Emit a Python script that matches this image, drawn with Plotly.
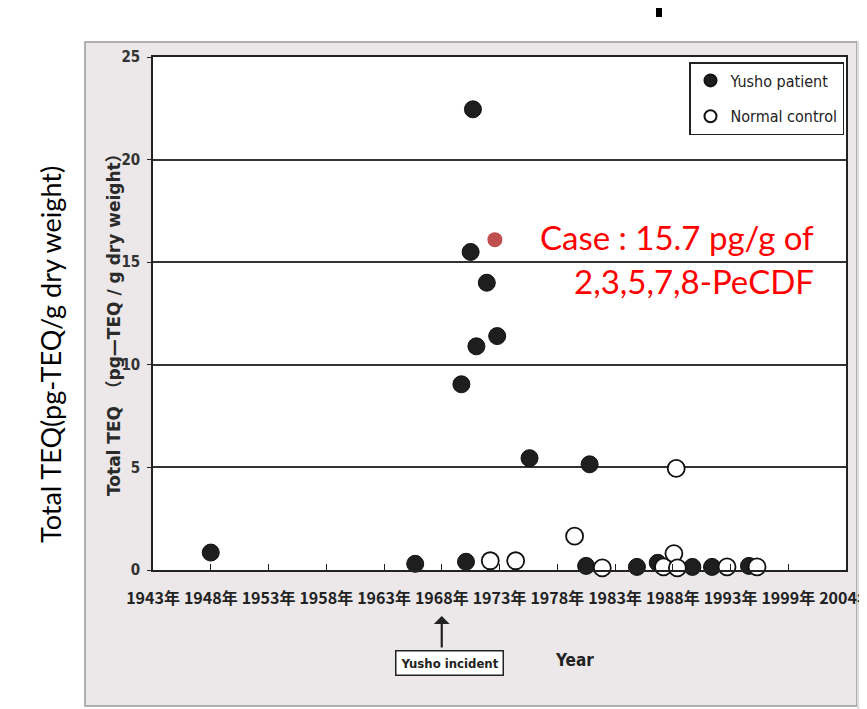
import plotly.graph_objects as go

# ---------------- data ----------------
patient_year = [1948.0, 1965.7, 1969.7, 1970.1, 1970.5, 1970.7, 1971.0, 1971.9, 1972.8,
                1975.6, 1980.8, 1980.5, 1984.9, 1986.7, 1989.7, 1991.4, 1994.6]
patient_teq = [0.85, 0.3, 9.05, 0.4, 15.5, 22.45, 10.9, 14.0, 11.4,
               5.45, 5.15, 0.2, 0.15, 0.35, 0.15, 0.15, 0.2]

control_year = [1972.2, 1974.4, 1979.5, 1981.9, 1987.2, 1988.1, 1988.3, 1988.4, 1992.7, 1995.3]
control_teq = [0.45, 0.45, 1.65, 0.1, 0.15, 0.8, 4.95, 0.1, 0.15, 0.15]

case_year = [1972.6]
case_teq = [16.1]

tick_pos = [1943, 1948, 1953, 1958, 1963, 1968, 1973, 1978, 1983, 1988, 1993, 1998, 2003]
tick_text = ["1943年", "1948年", "1953年", "1958年", "1963年", "1968年", "1973年",
             "1978年", "1983年", "1988年", "1993年", "1999年", "2004年"]
y_ticks = [0, 5, 10, 15, 20, 25]

# ---------------- layout geometry (screen pixels) ----------------
SW, SH = 867, 709          # browser window
OFF = 8                    # default body margin of the page
L, R, T, B = 153, 846, 57, 570
pw, ph = R - L, B - T


def px(x):
    return (x - L) / pw


def py(y):
    return (B - y) / ph


NARROW = "Liberation Sans Narrow, DejaVu Sans Condensed, Arial Narrow, sans-serif"
CJK = "Noto Sans CJK JP, sans-serif"

fig = go.Figure()

fig.add_trace(go.Scatter(
    x=patient_year, y=patient_teq, mode="markers", name="Yusho patient",
    legendgroup="a", cliponaxis=False,
    marker=dict(symbol="circle", size=17, color="#1e1e1e",
                line=dict(color="#111111", width=1)),
))
fig.add_trace(go.Scatter(
    x=control_year, y=control_teq, mode="markers", name="Normal control",
    legendgroup="b", cliponaxis=False,
    marker=dict(symbol="circle", size=17, color="white",
                line=dict(color="#111111", width=1.8)),
))
fig.add_trace(go.Scatter(
    x=case_year, y=case_teq, mode="markers", name="Case", showlegend=False,
    cliponaxis=False,
    marker=dict(symbol="circle", size=15, color="#c0504d"),
))

shapes = [
    # scanned page background
    dict(type="rect", xref="paper", yref="paper", layer="below",
         x0=px(85), x1=px(857), y0=py(706), y1=py(42),
         fillcolor="#ece8ea", line=dict(color="#9a9a9a", width=1.5)),
    dict(type="rect", xref="paper", yref="paper", layer="below",
         x0=px(857), x1=px(870), y0=py(712), y1=py(42),
         fillcolor="#dcdcdc", line=dict(width=0)),
    # white plotting area of the scan
    dict(type="rect", xref="paper", yref="paper", layer="below",
         x0=0, x1=1, y0=0, y1=1, fillcolor="white", line=dict(width=0)),
    # cut-off title descender
    dict(type="rect", xref="paper", yref="paper",
         x0=px(656), x1=px(662), y0=py(17), y1=py(OFF),
         fillcolor="black", line=dict(width=0)),
]

annotations = [
    # outer y title
    dict(text="Total TEQ(pg-TEQ/g dry weight)", xref="paper", yref="paper",
         x=px(50), y=py(355), xanchor="center", yanchor="middle",
         textangle=-90, showarrow=False,
         font=dict(family="Lato, Noto Sans, sans-serif", size=27, color="black")),
    # inner (scanned) y title
    dict(text="Total TEQ\u3000（pg—TEQ / g dry weight）", xref="paper", yref="paper",
         x=px(114), y=py(321), xanchor="center", yanchor="middle",
         textangle=-90, showarrow=False,
         font=dict(family="DejaVu Sans, Noto Sans CJK JP, sans-serif", size=17,
                   color="#2a2a2a", weight="bold")),
    # red case text
    dict(text="Case : 15.7 pg/g of", xref="paper", yref="paper",
         x=px(816), y=py(237), xanchor="right", yanchor="middle", showarrow=False,
         font=dict(family="Lato, Noto Sans, sans-serif", size=33, color="#ff0000")),
    dict(text="2,3,5,7,8-PeCDF", xref="paper", yref="paper",
         x=px(816), y=py(281), xanchor="right", yanchor="middle", showarrow=False,
         font=dict(family="Lato, Noto Sans, sans-serif", size=33, color="#ff0000")),
    # Yusho incident arrow
    dict(text="", xref="x", yref="paper",
         x=1968, y=py(616), ax=0, ay=33, showarrow=True,
         arrowhead=1, arrowsize=1.2, arrowwidth=2.2, arrowcolor="#222"),
    dict(text="Yusho incident", xref="paper", yref="paper",
         x=px(449), y=py(663), xanchor="center", yanchor="middle", showarrow=False,
         bordercolor="#222", borderwidth=1.5, borderpad=4, bgcolor="white",
         font=dict(family=NARROW, size=13, color="#222", weight="bold")),
    dict(text="Year", xref="paper", yref="paper",
         x=px(574), y=py(660), xanchor="center", yanchor="middle", showarrow=False,
         font=dict(family=NARROW, size=17, color="#222", weight="bold")),
]

fig.update_layout(
    width=SW - OFF, height=SH - OFF, autosize=False,
    margin=dict(l=L - OFF, r=SW - R, t=T - OFF, b=SH - B, pad=0, autoexpand=False),
    paper_bgcolor="white", plot_bgcolor="white",
    showlegend=True,
    legend=dict(x=px(689), y=py(62), xanchor="left", yanchor="top",
                bgcolor="white", bordercolor="#222", borderwidth=1.5,
                tracegroupgap=12, itemsizing="constant",
                font=dict(family=NARROW, size=16, color="#222")),
    shapes=shapes, annotations=annotations,
    xaxis=dict(range=[1943, 2003], tickmode="array", tickvals=tick_pos, ticktext=tick_text,
               showgrid=False, zeroline=False, showline=True, linecolor="#222", linewidth=1.5,
               mirror=True, ticks="inside", ticklen=6, tickcolor="#222", automargin=False,
               ticklabelstandoff=13, ticklabeloverflow="allow", tickangle=0,
               tickfont=dict(family=CJK, size=16, color="#222", weight="bold")),
    yaxis=dict(range=[0, 25], tickmode="array", tickvals=y_ticks,
               showgrid=True, gridcolor="#333", gridwidth=1.5, zeroline=False,
               showline=True, linecolor="#222", linewidth=1.5, mirror=True, automargin=False,
               ticks="outside", ticklen=4, tickcolor="#222", ticklabelstandoff=4,
               tickfont=dict(family=NARROW, size=15, color="#333", weight="bold")),
)

fig.write_html("out.html", config={"displayModeBar": False})
